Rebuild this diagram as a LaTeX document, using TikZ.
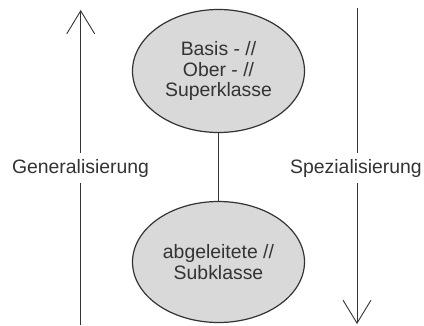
\documentclass[tikz,border=0pt]{standalone}
\usepackage{fontspec}
\setmainfont{Liberation Sans}
\usetikzlibrary{arrows.meta, shapes.geometric}
\definecolor{klassgray}{HTML}{D9D9D9}
\definecolor{inkgray}{HTML}{333333}

\begin{document}
\begin{tikzpicture}[x=1pt, y=-1pt, font=\fontsize{19.4}{20.5}\selectfont,
    klasse/.style={ellipse, draw=inkgray, fill=klassgray, line width=1.2pt,
        minimum width=172pt, minimum height=123pt, inner sep=0pt,
        align=center, text=inkgray},
    richtung/.style={->, >={Straight Barb[length=23pt, width=28pt]},
        draw=inkgray, line width=0.9pt},
    beschriftung/.style={fill=white, text=inkgray, inner xsep=2pt, inner ysep=6pt}]
    \useasboundingbox (0,0) rectangle (424,325);

    % Klassen
    \node[klasse] (ober) at (218.5,71) {Basis - //\\Ober - //\\Superklasse};
    \node[klasse, minimum height=121pt] (sub) at (218.5,262) {abgeleitete //\\Subklasse};
    \draw[inkgray, line width=0.9pt] (ober) -- (sub);

    % Richtungspfeile
    \coordinate (genunten) at (80.7,325);
    \coordinate (genoben) at (80.7,10);
    \coordinate (spezoben) at (357,8);
    \coordinate (spezunten) at (357,324);
    \draw[richtung] (genunten) -- (genoben);
    \draw[richtung] (spezoben) -- (spezunten);

    % Beschriftungen
    \node[beschriftung] (gen) at (80.5,168) {Generalisierung};
    \node[beschriftung] (spez) at (356,168) {Spezialisierung};
\end{tikzpicture}
\end{document}
